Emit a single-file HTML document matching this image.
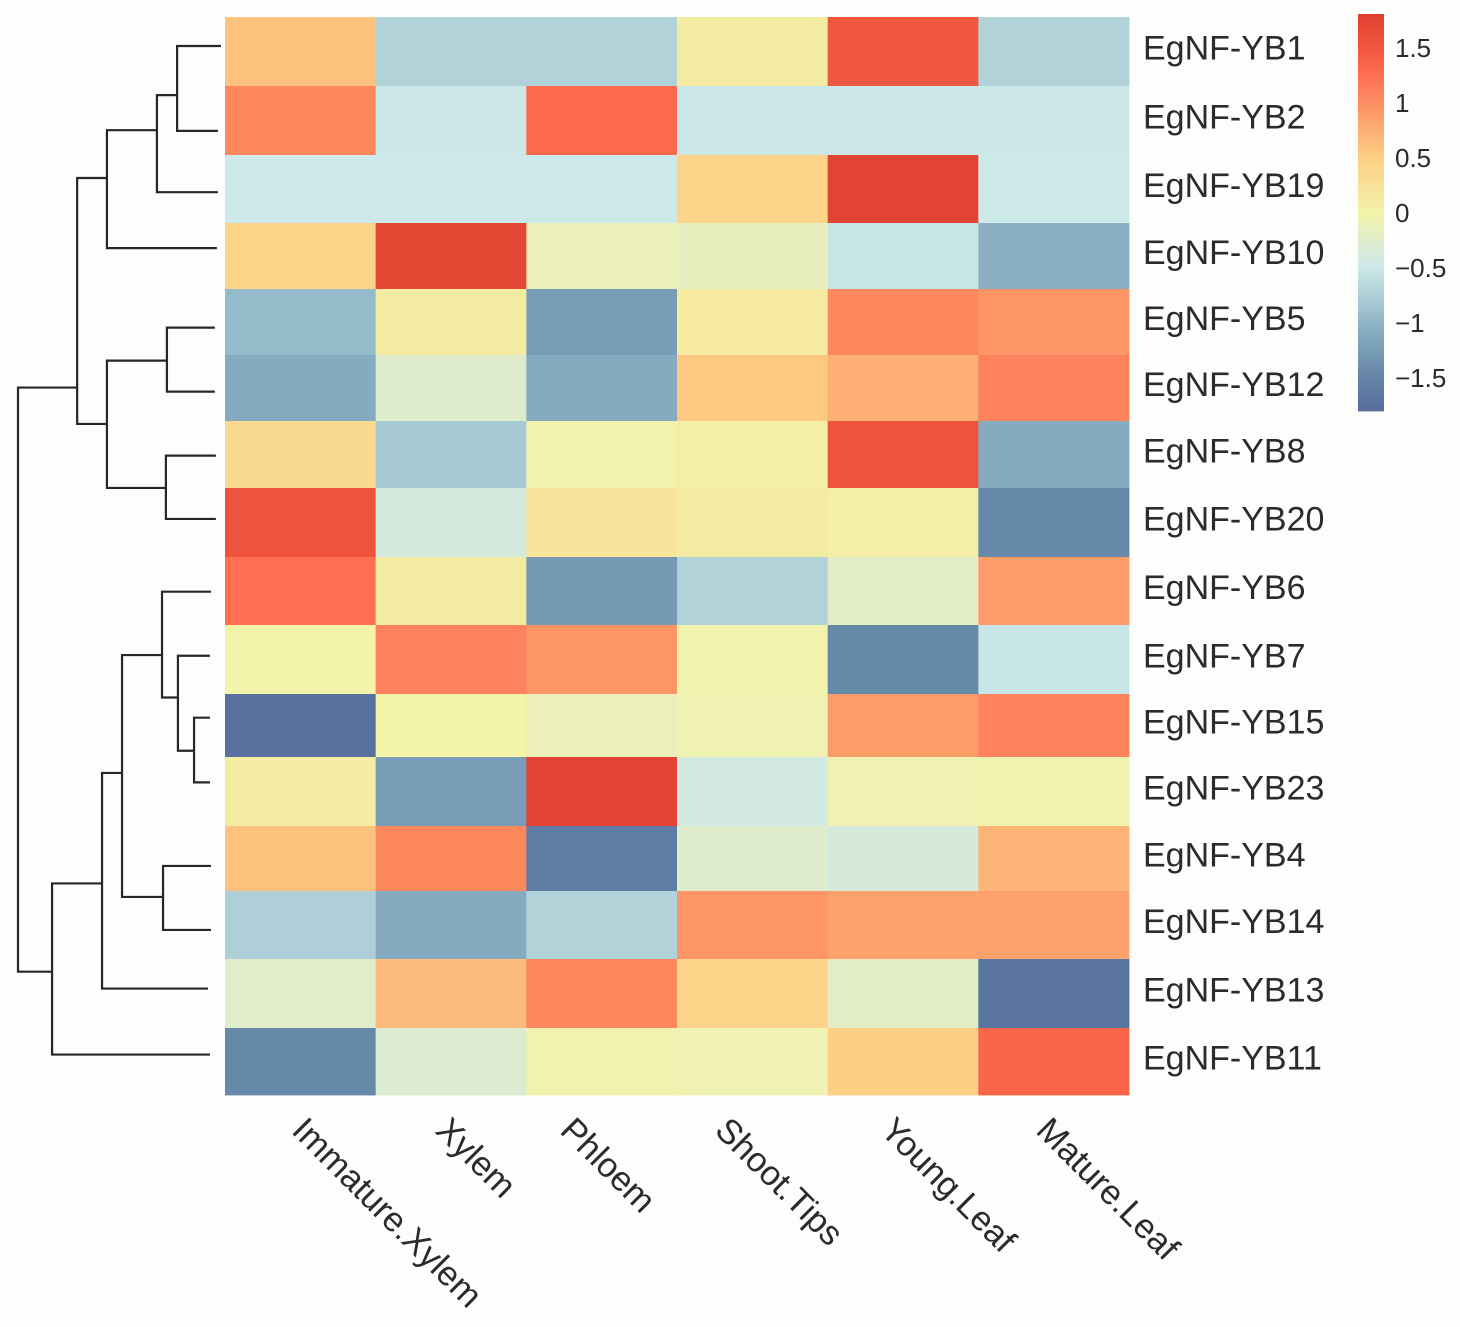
<!DOCTYPE html>
<html lang="en">
<head>
<meta charset="utf-8">
<title>EgNF-YB expression heatmap</title>
<style>
html,body{margin:0;padding:0;background:#fdfdfb;}
svg{display:block;font-family:"Liberation Sans",sans-serif;}
</style>
</head>
<body>
<svg id="chart" xmlns="http://www.w3.org/2000/svg" width="1460" height="1327" viewBox="0 0 1460 1327">
<rect x="0" y="0" width="1460" height="1327" fill="#fdfdfb"/>
<g id="dendrogram"></g>
<g id="cells"></g>
<g id="rowLabels"></g>
<g id="colLabels"></g>
<g id="colorbar"></g>
</svg>
<script>
const genes = ["EgNF-YB1","EgNF-YB2","EgNF-YB19","EgNF-YB10","EgNF-YB5","EgNF-YB12","EgNF-YB8","EgNF-YB20","EgNF-YB6","EgNF-YB7","EgNF-YB15","EgNF-YB23","EgNF-YB4","EgNF-YB14","EgNF-YB13","EgNF-YB11"];
const tissues = ["Immature.Xylem","Xylem","Phloem","Shoot.Tips","Young.Leaf","Mature.Leaf"];
const immatureXylem = [0.6,1.05,-0.5,0.45,-0.95,-1.1,0.35,1.55,1.25,0,-1.75,0.1,0.6,-0.75,-0.22,-1.45];
const xylem = [-0.72,-0.52,-0.5,1.7,0.12,-0.25,-0.8,-0.4,0.12,1.1,0,-1.25,1.05,-1.1,0.65,-0.3];
const phloem = [-0.72,1.3,-0.5,-0.1,-1.25,-1.1,-0.02,0.2,-1.3,0.95,-0.1,1.75,-1.6,-0.72,1.05,-0.02];
const shootTips = [0.1,-0.52,0.45,-0.15,0.13,0.55,0.05,0.1,-0.72,-0.02,-0.05,-0.42,-0.25,0.95,0.45,-0.05];
const youngLeaf = [1.5,-0.52,1.75,-0.55,1.05,0.75,1.55,0.05,-0.2,-1.45,0.9,-0.05,-0.38,0.85,-0.2,0.5];
const matureLeaf = [-0.72,-0.52,-0.5,-1.05,0.95,1.1,-1.1,-1.45,0.9,-0.55,1.1,-0.02,0.7,0.85,-1.7,1.35];
const seriesValues = [immatureXylem,xylem,phloem,shootTips,youngLeaf,matureLeaf];
const legendTicks = [1.5,1,0.5,0,-0.5,-1,-1.5];
const legendTickLabels = ["1.5","1","0.5","0","\u22120.5","\u22121","\u22121.5"];
const colorStops = [-1.8,-1.5,-1,-0.5,-0.25,0,0.5,1,1.25,1.5,1.8];
const colorRamp = ["#566d9c","#6384a6","#8fb5c6","#cde9e9","#dfeccc","#f3f3aa","#fdcf85","#fd8e62","#ff6f50","#f0573f","#e03f30"];
/* Dendrogram: [mergeHeight, rowPosition, childA, childB]; leaves are [height, rowPosition] */
const rowTree = [100,5.5,
  [71,5.5,
    [56.4,2.39,
      [31.9,1.68,
        [22,1.16,[0.5,0.43],[2,1.69]],
        [2,2.6]],
      [2.5,3.43]],
    [56.4,6.04,
      [27,5.1,[3.5,4.61],[3.5,5.56]],
      [27.5,6.99,[3,6.51],[3,7.45]]]],
  [83.3,14.17,
    [58.8,12.86,
      [49,11.22,
        [29.4,9.47,
          [5.4,8.53],
          [21.6,10.1,
            [5.9,9.48],
            [13.7,10.89,[5.9,10.4],[5.9,11.36]]]],
        [28.9,13.06,[5.4,12.6],[5.4,13.55]]],
      [6.9,14.42]],
    [5.9,15.4]]];

const NS = "http://www.w3.org/2000/svg";
const gridLeft = 225, gridRight = 1129, gridTop = 17, gridBottom = 1095;
/* layout: relative row band heights as printed in the figure */
const rowBandHeights = [69,69,68,66,66,66,67,69,68,69,63,69,65,68,69,67];
const colX = i => gridLeft + i * (gridRight - gridLeft) / tissues.length;
const rowY = i => gridTop + rowBandHeights.slice(0,i).reduce((s,h) => s+h, 0);
const treeY = p => gridTop + p * (gridBottom - gridTop) / genes.length;
const dendroX = h => 222 - 2.04 * h;
const legendY = v => 213 - 110 * v;

function hexToRgb(hex){
  return [1,3,5].map(k => parseInt(hex.slice(k,k+2),16));
}
function colorOf(v){
  const c = Math.max(colorStops[0], Math.min(colorStops[colorStops.length-1], v));
  let i = 0;
  while (i < colorStops.length-2 && c > colorStops[i+1]) i++;
  const t = (c - colorStops[i]) / (colorStops[i+1] - colorStops[i]);
  const a = hexToRgb(colorRamp[i]), b = hexToRgb(colorRamp[i+1]);
  const m = a.map((x,k) => Math.round(x + (b[k]-x)*t));
  return "rgb(" + m.join(",") + ")";
}
function make(tag, attrs, parent){
  const el = document.createElementNS(NS, tag);
  for (const k in attrs) el.setAttribute(k, attrs[k]);
  parent.appendChild(el);
  return el;
}

/* cells */
const cellsG = document.getElementById("cells");
seriesValues.forEach((vals, c) => {
  vals.forEach((v, r) => {
    const cell = make("rect", {x:colX(c), y:rowY(r), width:colX(c+1)-colX(c)+0.4, height:rowY(r+1)-rowY(r)+0.4, fill:colorOf(v)}, cellsG);
    
    
  });
});

/* row labels */
const rowG = document.getElementById("rowLabels");
genes.forEach((g, r) => {
  const t = make("text", {x:1143, y:(rowY(r)+rowY(r+1))/2 + 8, "font-size":34, fill:"#2b2b2b"}, rowG);
  t.textContent = g;
  
  
});

/* column labels */
const colNudge = [-10,-17,-43,-39,-24,-19];
const colG = document.getElementById("colLabels");
tissues.forEach((name, c) => {
  const x = (colX(c)+colX(c+1))/2 + colNudge[c], y = 1132;
  const t = make("text", {x:x, y:y, "font-size":34.5, fill:"#2b2b2b", transform:"rotate(45 "+x+" "+y+")"}, colG);
  t.textContent = name;
  
  
});

/* dendrogram */
const dendG = document.getElementById("dendrogram");
let dPath = "";
function drawNode(node){
  const x = dendroX(node[0]);
  const y = treeY(node[1]);
  if (node.length > 2){
    const a = drawNode(node[2]), b = drawNode(node[3]);
    dPath += "M"+a.x+" "+a.y+"H"+x+"V"+b.y+"H"+b.x;
  }
  return {x:x, y:y};
}
drawNode(rowTree);
const dendLine = make("path", {d:dPath, fill:"none", stroke:"#262626", "stroke-width":2.2, "stroke-linejoin":"miter"}, dendG);



/* color legend */
const legendG = document.getElementById("colorbar");
for (let py = 14; py < 411; py++){
  const val = (213 - py - 0.5) / 110;
  const s = make("rect", {x:1358, y:py, width:26, height:1.4, fill:colorOf(val)}, legendG);
  
  
}
legendTicks.forEach((v, i) => {
  const t = make("text", {x:1395, y:legendY(v)+9, "font-size":26, fill:"#2b2b2b"}, legendG);
  t.textContent = legendTickLabels[i];
  
  
});
</script>
</body>
</html>
